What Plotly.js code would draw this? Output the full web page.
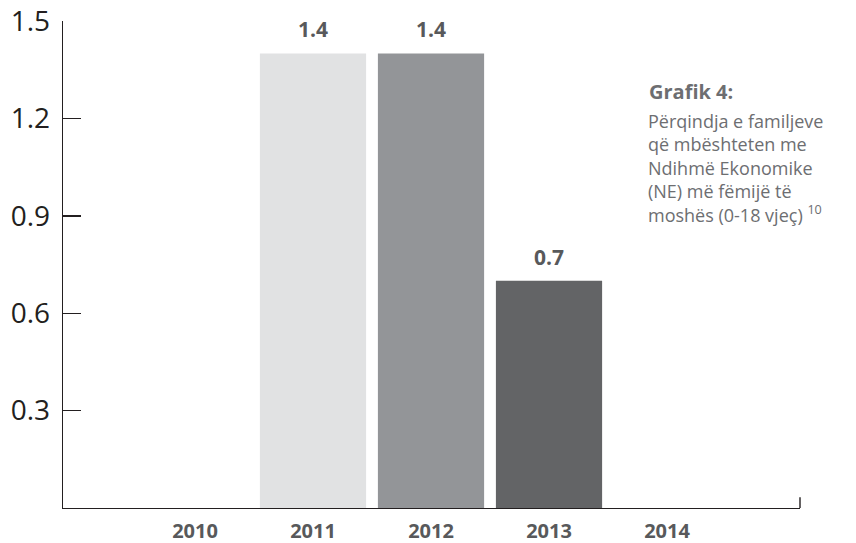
<!DOCTYPE html>
<html>
<head>
<meta charset="utf-8">
<script src="https://cdn.plot.ly/plotly-3.0.1.min.js"></script>
<style>html,body{margin:0;padding:0;background:#fff;}#chart{width:856px;height:543px;}</style>
</head>
<body>
<div id="chart"></div>
<script>
const years = ['2010', '2011', '2012', '2013', '2014'];
const values = [null, 1.4, 1.4, 0.7, null];
const barColors = ['#e1e2e3', '#e1e2e3', '#939598', '#636466', '#636466'];
const yTicks = [0.3, 0.6, 0.9, 1.2, 1.5];
const noteTitle = 'Grafik 4:';
const noteLines = ['Përqindja e familjeve', 'që mbështeten me', 'Ndihmë Ekonomike', '(NE) më fëmijë të', 'moshës (0-18 vjeç) <sup>10</sup>'];

const FONT = 'Open Sans, Noto Sans, sans-serif';

const trace = {
  type: 'bar',
  x: years,
  y: values,
  width: 0.9,
  marker: {color: barColors, line: {width: 0}},
  hoverinfo: 'skip'
};

const valueLabels = [];
years.forEach((yr, i) => {
  if (values[i] == null) return;
  valueLabels.push({
    x: i, y: values[i], xref: 'x', yref: 'y',
    text: '<b>' + values[i].toFixed(1) + '</b>',
    showarrow: false, xanchor: 'center', yanchor: 'bottom', yshift: 8,
    font: {family: FONT, size: 21, color: '#58595b'}
  });
});

const noteHead = {
  xref: 'paper', yref: 'paper', x: 0.792, y: 0.888,
  xanchor: 'left', yanchor: 'top', align: 'left', showarrow: false,
  text: '<b>' + noteTitle + '</b>',
  font: {family: FONT, size: 20, color: '#6d6e71'}
};
const noteBody = {
  xref: 'paper', yref: 'paper', x: 0.791, y: 0.824,
  xanchor: 'left', yanchor: 'top', align: 'left', showarrow: false,
  text: noteLines.join('<br>'),
  font: {family: FONT, size: 18, color: '#6d6e71'}
};

const layout = {
  width: 856, height: 543,
  margin: {l: 63, r: 56, t: 21, b: 35},
  paper_bgcolor: '#fff', plot_bgcolor: '#fff',
  showlegend: false,
  xaxis: {
    type: 'category',
    range: [-1.1186, 5.127],
    showgrid: false, zeroline: false,
    showline: true, linecolor: '#231f20', linewidth: 1.4,
    ticks: '',
    ticklabelstandoff: 5,
    tickfont: {family: FONT, size: 20, color: '#58595b', weight: 'bold'}
  },
  yaxis: {
    range: [0, 1.5],
    tickvals: yTicks,
    ticktext: yTicks.map(v => v.toFixed(1)),
    showgrid: false, zeroline: false,
    showline: true, linecolor: '#231f20', linewidth: 1.4,
    ticks: 'inside', ticklen: 18, tickwidth: 1.4, tickcolor: '#231f20',
    ticklabelstandoff: 6,
    tickfont: {family: FONT, size: 28, color: '#231f20'}
  },
  shapes: [{
    type: 'line', xref: 'paper', yref: 'paper',
    x0: 1, x1: 1, y0: 0, y1: 0.022,
    line: {color: '#231f20', width: 1.4}
  }],
  annotations: valueLabels.concat([noteHead, noteBody])
};

Plotly.newPlot('chart', [trace], layout, {displayModeBar: false, staticPlot: true});
</script>
</body>
</html>
